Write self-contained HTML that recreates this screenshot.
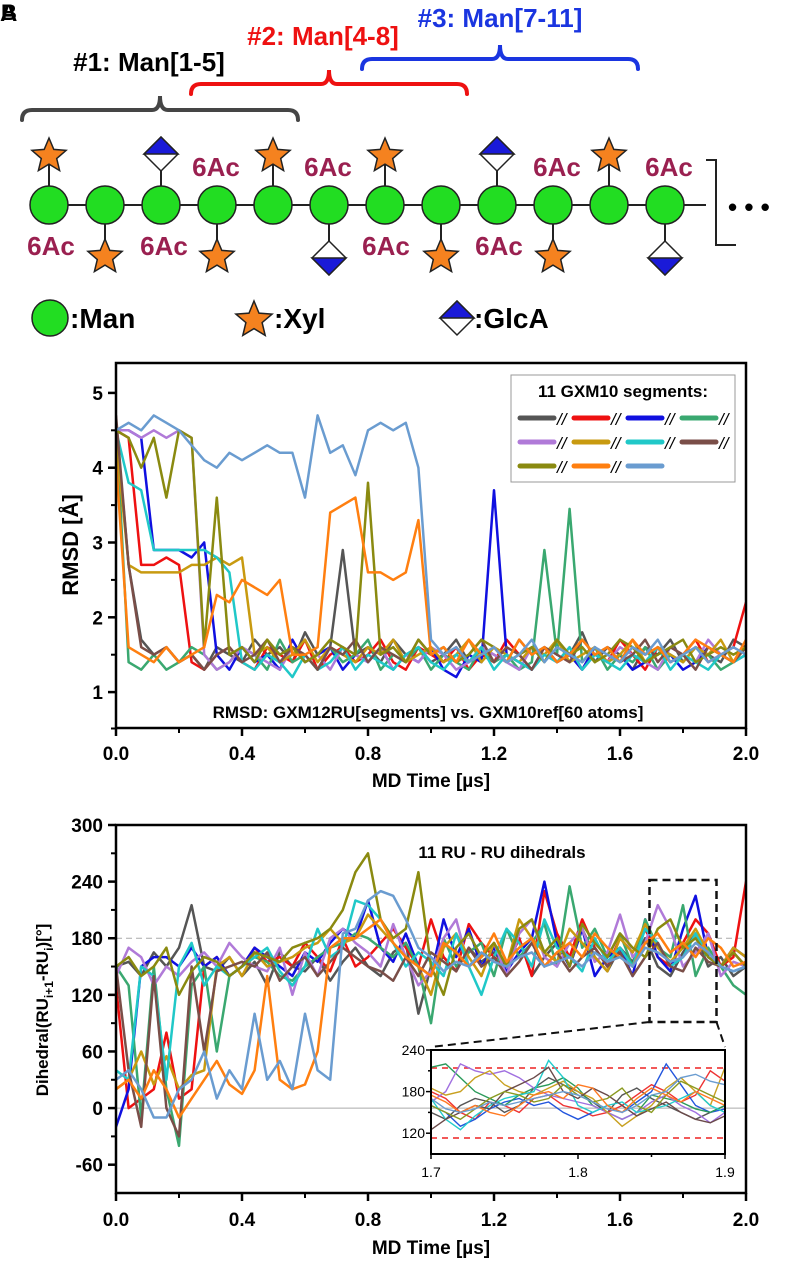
<!DOCTYPE html>
<html><head><meta charset="utf-8"><style>
body{margin:0;background:#fff;}
svg{display:block;font-family:"Liberation Sans",Arial,sans-serif;}
</style></head><body>
<svg id="fig" width="785" height="1261" viewBox="0 0 785 1261" xmlns="http://www.w3.org/2000/svg">
<g id="diagram"></g>
<g id="c1"></g>
<g id="c2"></g>
</svg>
<script>
const NS="http://www.w3.org/2000/svg";
function mk(p,tag,attrs,txt){const e=document.createElementNS(NS,tag);for(const k in attrs)e.setAttribute(k,attrs[k]);if(txt!==undefined)e.textContent=txt;p.appendChild(e);return e;}

// ===== DATA =====
const colors=["#555555","#ee1111","#1010e0","#3aa870","#b07ad8","#c89a10","#20c8c8","#7a4e48","#8a8a10","#ff7f10","#6a9cd0"];
const seriesNames=["seg1","seg2","seg3","seg4","seg5","seg6","seg7","seg8","seg9","seg10","seg11"];
const timeUs=[0,0.04,0.08,0.12,0.16,0.2,0.24,0.28,0.32,0.36,0.4,0.44,0.48,0.52,0.56,0.6,0.64,0.68,0.72,0.76,0.8,0.84,0.88,0.92,0.96,1.0,1.04,1.08,1.12,1.16,1.2,1.24,1.28,1.32,1.36,1.4,1.44,1.48,1.52,1.56,1.6,1.64,1.68,1.72,1.76,1.8,1.84,1.88,1.92,1.96,2.0];
const rmsdGray=[4.6,2.7,1.7,1.5,1.6,1.4,1.5,1.3,1.6,1.5, 1.4,1.7,1.5,1.6,1.4,1.8,1.5,1.6,2.9,1.5, 1.6,1.4,1.7,1.5,1.6,1.4,1.5,1.7,1.4,1.6, 1.5,1.4,1.7,1.5,1.6,1.4,1.5,1.8,1.4,1.6, 1.5,1.3,1.6,1.5,1.7,1.4,1.6,1.5,1.4,1.7,1.6];
const rmsdRed=[4.5,4.4,2.7,2.7,2.8,2.7,1.4,1.3,1.5,1.6, 1.4,1.3,1.6,1.5,1.4,1.7,1.3,1.5,1.6,1.4, 1.5,1.7,1.4,1.3,1.6,1.5,1.4,1.6,1.3,1.5, 1.4,1.7,1.5,1.3,1.6,1.4,1.5,1.3,1.6,1.4, 1.7,1.5,1.3,1.6,1.4,1.5,1.7,1.4,1.5,1.6,2.2];
const rmsdBlue=[4.5,4.5,4.4,2.9,2.9,2.9,2.8,3.0,1.5,1.3, 1.6,1.4,1.5,1.3,1.7,1.4,1.5,1.6,1.3,1.5, 1.4,1.6,1.3,1.5,1.4,1.6,1.3,1.2,1.5,1.4, 3.7,1.5,1.4,1.3,1.6,1.4,1.5,1.3,1.6,1.4, 1.5,1.3,1.4,1.6,1.5,1.3,1.4,1.6,1.5,1.4,1.5];
const rmsdGreen=[4.6,1.4,1.3,1.5,1.3,1.4,1.6,1.5,1.3,1.4, 1.6,1.5,1.3,1.7,1.4,1.5,1.3,1.6,1.4,1.5, 1.7,1.3,1.5,1.4,1.6,1.3,1.5,1.4,1.3,1.6, 1.4,1.5,1.3,1.4,2.9,1.5,3.45,1.4,1.6,1.3, 1.5,1.4,1.6,1.3,1.5,1.4,1.6,1.5,1.3,1.4,1.5];
const rmsdPurple=[4.5,4.5,4.4,4.5,4.4,4.5,4.4,1.5,1.3,1.4, 1.6,1.5,1.4,1.3,1.6,1.4,1.5,1.3,1.6,1.5, 1.4,1.6,1.3,1.5,1.4,1.6,1.5,1.3,1.4,1.6, 1.5,1.4,1.3,1.6,1.5,1.4,1.6,1.3,1.5,1.4, 1.6,1.5,1.4,1.3,1.6,1.5,1.4,1.7,1.5,1.4,1.5];
const rmsdGold=[4.4,2.7,2.6,2.6,2.6,2.6,2.7,2.7,2.8,2.7, 2.8,1.5,1.6,1.4,1.5,1.7,1.4,1.6,1.5,1.4, 1.6,1.5,1.7,1.4,1.5,1.6,1.4,1.5,1.7,1.4, 1.6,1.5,1.4,1.6,1.5,1.7,1.4,1.5,1.6,1.4, 1.5,1.7,1.4,1.6,1.5,1.4,1.6,1.5,1.7,1.4,1.6];
const rmsdCyan=[4.5,3.8,3.7,2.9,2.9,2.9,2.9,2.9,2.8,2.6, 1.4,1.3,1.5,1.4,1.2,1.5,1.3,1.4,1.6,1.3, 1.5,1.4,1.3,1.5,1.6,1.4,1.3,1.5,1.4,1.6, 1.3,1.5,1.4,1.3,1.5,1.4,1.6,1.3,1.5,1.4, 1.3,1.5,1.4,1.6,1.3,1.5,1.4,1.3,1.5,1.4,1.5];
const rmsdBrown=[4.7,2.7,1.6,1.5,1.6,1.4,1.5,1.3,1.5,1.6, 1.4,1.5,1.7,1.4,1.6,1.5,1.3,1.6,1.5,1.7, 1.4,1.6,1.5,1.4,1.7,1.5,1.6,1.4,1.5,1.7, 1.4,1.6,1.5,1.3,1.6,1.5,1.4,1.7,1.5,1.6, 1.4,1.5,1.7,1.4,1.6,1.5,1.3,1.6,1.5,1.4,1.6];
const rmsdOlive=[4.5,4.4,4.0,4.4,3.6,4.5,4.4,1.6,3.6,1.5, 1.6,1.4,1.7,1.5,1.6,1.4,1.5,1.7,1.6,1.5, 3.8,1.5,1.6,1.4,1.7,1.5,1.6,1.4,1.5,1.7, 1.6,1.4,1.5,1.6,1.4,1.7,1.5,1.6,1.4,1.5, 1.7,1.6,1.4,1.5,1.6,1.7,1.4,1.5,1.6,1.5,1.6];
const rmsdOrange=[4.1,1.6,1.5,1.4,1.6,1.4,1.5,1.6,2.3,2.2, 2.5,2.4,2.3,2.5,1.5,1.5,1.6,3.4,3.5,3.6, 2.6,2.6,2.5,2.6,3.3,1.5,1.6,1.4,1.7,1.5, 1.6,1.4,1.7,1.5,1.6,1.4,1.5,1.7,1.5,1.6, 1.4,1.7,1.5,1.6,1.4,1.5,1.7,1.6,1.5,1.4,1.7];
const rmsdLightBlue=[4.5,4.6,4.5,4.7,4.6,4.5,4.3,4.1,4.0,4.2, 4.1,4.2,4.3,4.2,4.2,3.6,4.7,4.2,4.3,3.9, 4.5,4.6,4.5,4.6,4.0,1.7,1.5,1.6,1.4,1.5, 1.6,1.4,1.5,1.7,1.4,1.6,1.5,1.4,1.6,1.5, 1.4,1.6,1.5,1.7,1.4,1.5,1.6,1.4,1.5,1.6,1.5];
const rmsdSeries=[rmsdGray,rmsdRed,rmsdBlue,rmsdGreen,rmsdPurple,rmsdGold,rmsdCyan,rmsdBrown,rmsdOlive,rmsdOrange,rmsdLightBlue];
const rmsdTicks=[1,2,3,4,5];
const timeTicks=[0,0.4,0.8,1.2,1.6,2.0];
const timeTickLabels=["0.0","0.4","0.8","1.2","1.6","2.0"];

const dihGray=[150,155,140,165,150,170,215,150,145,160, 140,155,130,165,150,145,160,135,155,170, 150,140,165,175,100,150,160,145,170,155, 165,150,180,140,160,175,150,190,160,145, 170,155,180,150,140,165,185,150,160,140,150];
const dihRed=[130,0,10,20,80,10,20,150,160,140, 150,170,155,160,150,175,160,145,180,150, 160,175,190,170,150,200,160,145,195,175, 160,150,180,140,230,185,160,200,170,150, 180,165,190,160,150,175,200,185,150,160,240];
const dihBlue=[-20,20,150,160,160,150,170,150,160,140, 150,170,160,150,140,165,155,175,190,180, 220,170,155,185,150,140,200,160,190,150, 170,145,165,180,240,175,150,190,140,160, 170,140,200,160,145,190,225,160,150,170,160];
const dihGreen=[150,130,-10,150,20,-40,130,150,60,140, 150,160,155,140,135,150,160,170,175,185, 180,170,160,175,150,90,180,150,165,175, 140,190,160,175,195,150,235,170,190,160, 185,150,200,170,160,215,140,170,150,130,120];
const dihPurple=[140,170,160,130,150,140,155,165,150,175, 160,150,145,170,120,165,140,180,190,175, 165,150,195,160,130,145,180,200,150,160, 175,140,185,200,160,150,175,190,155,165, 205,160,175,215,190,150,165,185,140,155,150];
const dihGold=[20,30,60,25,55,20,35,40,150,160, 140,165,150,155,160,170,175,190,175,180, 205,190,175,160,150,120,170,185,160,140, 175,150,200,180,165,155,190,175,160,145, 180,165,195,170,155,170,190,165,150,170,160];
const dihCyan=[40,30,150,140,30,150,175,130,150,140, 150,160,170,145,130,150,190,160,170,220, 215,200,175,150,165,155,140,185,150,120, 160,190,175,150,200,170,160,145,180,155, 170,150,190,175,150,160,185,160,150,145,150];
const dihBrown=[150,40,-20,140,0,-30,150,60,145,150, 155,150,165,135,150,160,140,155,170,160, 150,145,135,160,140,165,155,145,170,150, 160,140,155,175,150,165,145,160,170,150, 165,140,160,175,150,145,170,155,150,165,150];
const dihOlive=[150,160,140,150,170,120,145,160,155,140, 150,165,160,155,170,175,180,190,210,250, 270,200,180,190,250,150,120,170,185,160, 175,150,190,200,165,180,150,195,175,160, 185,170,160,190,200,170,180,160,150,165,150];
const dihOrange=[20,30,10,40,20,-10,10,30,50,25, 15,40,140,30,20,25,60,170,180,180, 190,200,175,160,150,140,175,165,150,160, 185,155,170,180,150,165,175,160,185,170, 160,150,175,185,165,175,160,180,170,150,155];
const dihLightBlue=[30,40,20,-10,-10,20,30,60,10,40, 20,100,30,50,20,100,40,30,185,190, 220,230,225,200,170,160,145,155,150,165, 155,150,160,165,150,155,160,150,165,155, 160,150,170,165,155,160,175,165,150,145,150];
const dihSeries=[dihGray,dihRed,dihBlue,dihGreen,dihPurple,dihGold,dihCyan,dihBrown,dihOlive,dihOrange,dihLightBlue];
const dihTicks=[-60,0,60,120,180,240,300];

const insetTime=[1.70,1.71,1.72,1.73,1.74,1.75,1.76,1.77,1.78,1.79,1.80,1.81,1.82,1.83,1.84,1.85,1.86,1.87,1.88,1.89,1.90];
const insGray=[150,140,160,170,165,150,160,185,200,190,180,165,150,175,185,170,160,150,140,150,160];
const insRed=[180,170,150,140,165,160,150,170,175,160,155,145,150,160,175,190,180,165,175,210,195];
const insBlue=[160,150,130,140,155,165,170,160,165,150,140,150,160,150,165,180,220,190,160,150,155];
const insGreen=[215,220,200,180,170,160,175,185,190,200,185,160,150,140,150,175,170,165,155,150,160];
const insPurple=[165,180,220,210,205,210,200,185,175,170,165,160,150,140,150,165,175,160,150,135,150];
const insGold=[185,175,180,200,210,190,180,175,185,195,180,170,150,130,145,160,185,200,180,160,215];
const insCyan=[170,140,125,145,160,170,175,180,225,200,160,150,160,165,150,155,160,170,180,160,150];
const insBrown=[125,140,150,160,155,180,190,200,215,180,170,185,175,160,145,155,165,150,140,135,145];
const insOlive=[160,150,140,155,170,180,175,165,170,190,175,165,170,185,160,150,175,195,185,175,165];
const insOrange=[175,165,150,160,150,145,160,175,180,170,190,185,160,150,170,185,175,165,180,170,160];
const insLightBlue=[170,155,150,155,165,160,165,170,175,180,175,165,155,150,160,175,180,200,205,195,190];
const insetSeries=[insGray,insRed,insBlue,insGreen,insPurple,insGold,insCyan,insBrown,insOlive,insOrange,insLightBlue];
const insetColors=["#555","#e33","#2255dd","#2a9a5a","#a070e0","#c8a020","#22cccc","#6a4a4a","#8a9a20","#ff7a22","#6a9cd0"];
const insetYTicks=[120,180,240];
const insetXTicks=[1.7,1.8,1.9];

// ===== TOP DIAGRAM =====
const D=document.getElementById('diagram');
let e;
function star(p,cx,cy,r){let pts=[];for(let i=0;i<10;i++){const a=-Math.PI/2+i*Math.PI/5;const rr=i%2?r*0.45:r;pts.push((cx+rr*Math.cos(a)).toFixed(1)+","+(cy+rr*Math.sin(a)).toFixed(1));}
return mk(p,'polygon',{points:pts.join(' '),fill:'#f5821f',stroke:'#222','stroke-width':1.5});}
function diamond(p,cx,cy,r,blueTop){const g=mk(p,'g',{});
mk(g,'polygon',{points:`${cx-r},${cy} ${cx},${cy-r} ${cx+r},${cy} ${cx},${cy+r}`,fill:'#fff',stroke:'#222','stroke-width':1.5});
if(blueTop)mk(g,'polygon',{points:`${cx-r},${cy} ${cx},${cy-r} ${cx+r},${cy}`,fill:'#1a1ad8',stroke:'#222','stroke-width':1.5});
else mk(g,'polygon',{points:`${cx-r},${cy} ${cx},${cy+r} ${cx+r},${cy}`,fill:'#1a1ad8',stroke:'#222','stroke-width':1.5});
return g;}
e=mk(D,'text',{x:0,y:21,'font-size':24,'font-weight':'bold'},'A');


mk(D,'text',{x:1,y:20,'font-size':22,'font-weight':'bold'},'B');
function brace(x1,x2,ytop,col){const mid=(x1+x2)/2,y=ytop+14;
return mk(D,'path',{d:`M${x1},${y+10} Q${x1},${y} ${x1+10},${y} L${mid-8},${y} Q${mid},${y} ${mid},${ytop} Q${mid},${y} ${mid+8},${y} L${x2-10},${y} Q${x2},${y} ${x2},${y+10}`,fill:'none',stroke:col,'stroke-width':4,'stroke-linecap':'round'});}
e=brace(22,298,96,'#454545');


e=brace(191,467,70,'#ee1111');


e=brace(362,638,45,'#1a35e0');


e=mk(D,'text',{x:149,y:71,'font-size':26,'font-weight':'bold','text-anchor':'middle',fill:'#000'},'#1: Man[1-5]');


e=mk(D,'text',{x:323,y:45,'font-size':26,'font-weight':'bold','text-anchor':'middle',fill:'#ee1111'},'#2: Man[4-8]');


e=mk(D,'text',{x:500,y:27,'font-size':26,'font-weight':'bold','text-anchor':'middle',fill:'#1a35e0'},'#3: Man[7-11]');


e=mk(D,'line',{x1:49,y1:205,x2:706,y2:205,stroke:'#222','stroke-width':2});


e=mk(D,'path',{d:'M706,160 L716,160 L716,245 L736,245',fill:'none',stroke:'#222','stroke-width':2});


e=mk(D,'text',{x:728,y:216,'font-size':26,'font-weight':'bold'},'• • •');


const topKinds=["s","","d","","s","","s","","d","","s",""];
const botKinds=["","s","","s","","d","","s","","s","","d"];
for(let k=0;k<12;k++){const cx=49+56*k;
if(topKinds[k]){mk(D,'line',{x1:cx,y1:205,x2:cx,y2:160,stroke:'#222','stroke-width':2});}
if(botKinds[k]){mk(D,'line',{x1:cx,y1:205,x2:cx,y2:250,stroke:'#222','stroke-width':2});}}
for(let k=0;k<12;k++){const cx=49+56*k;
const c=mk(D,'circle',{cx:cx,cy:205,r:19,fill:'#22dd22',stroke:'#222','stroke-width':1.5});


if(topKinds[k]==='s'){e=star(D,cx,156,18);

}
if(topKinds[k]==='d'){e=diamond(D,cx,154,17,true);

}
if(botKinds[k]==='s'){e=star(D,cx,257,18);

}
if(botKinds[k]==='d'){e=diamond(D,cx,258,17,false);

}}
const acTop=[216,328,557,669],acBot=[51,164,386,499];
acTop.forEach(x=>{e=mk(D,'text',{x:x,y:176,'font-size':26,'font-weight':'bold','text-anchor':'middle',fill:'#9a2050'},'6Ac');

});
acBot.forEach(x=>{e=mk(D,'text',{x:x,y:255,'font-size':26,'font-weight':'bold','text-anchor':'middle',fill:'#9a2050'},'6Ac');

});
e=mk(D,'circle',{cx:50,cy:318,r:18,fill:'#22dd22',stroke:'#222','stroke-width':1.5});


e=mk(D,'text',{x:70,y:328,'font-size':28,'font-weight':'bold'},':Man');


e=star(D,254,320,19);


e=mk(D,'text',{x:274,y:328,'font-size':28,'font-weight':'bold'},':Xyl');


e=diamond(D,457,318,17,true);


e=mk(D,'text',{x:474,y:328,'font-size':28,'font-weight':'bold'},':GlcA');



// ===== CHART HELPERS =====
function pathFrom(xs,ys,sx,sy){return xs.map((x,i)=>(i?'L':'M')+sx(x).toFixed(1)+','+sy(ys[i]).toFixed(1)).join(' ');}
const X0=116,X1=746;
const sxMain=t=>X0+(t-0)/(2.0-0)*(X1-X0);

// ===== CHART 1 =====
const C1=document.getElementById('c1');
const T1=363,B1=728,ymin1=0.52,ymax1=5.4;
const sy1=v=>B1-(v-ymin1)/(ymax1-ymin1)*(B1-T1);
const clip1=mk(C1,'clipPath',{id:'cl1'});mk(clip1,'rect',{x:X0,y:T1,width:X1-X0,height:B1-T1});
const g1=mk(C1,'g',{'clip-path':'url(#cl1)'});
rmsdSeries.forEach((s,i)=>{const p=mk(g1,'path',{d:pathFrom(timeUs,s,sxMain,sy1),fill:'none',stroke:colors[i],'stroke-width':2.5,'stroke-linejoin':'round'});

});
e=mk(C1,'rect',{x:X0,y:T1,width:X1-X0,height:B1-T1,fill:'none',stroke:'#000','stroke-width':2.5});


rmsdTicks.forEach(v=>{const y=sy1(v);mk(C1,'line',{x1:X0-8,y1:y,x2:X0,y2:y,stroke:'#000','stroke-width':2.5});
e=mk(C1,'text',{x:X0-13,y:y+7,'font-size':19,'font-weight':'bold','text-anchor':'end'},String(v));


const ym=sy1(v+0.5);if(v+0.5<ymax1)mk(C1,'line',{x1:X0-5,y1:ym,x2:X0,y2:ym,stroke:'#000','stroke-width':2});});
mk(C1,'line',{x1:X0-5,y1:sy1(0.5)-1,x2:X0,y2:sy1(0.5)-1,stroke:'#000','stroke-width':2});
timeTicks.forEach((t,i)=>{const x=sxMain(t);mk(C1,'line',{x1:x,y1:B1,x2:x,y2:B1+8,stroke:'#000','stroke-width':2.5});
e=mk(C1,'text',{x:x,y:B1+32,'font-size':19,'font-weight':'bold','text-anchor':'middle'},timeTickLabels[i]);


if(i<timeTicks.length-1){const xm=sxMain(t+0.2);mk(C1,'line',{x1:xm,y1:B1,x2:xm,y2:B1+5,stroke:'#000','stroke-width':2});}});
e=mk(C1,'text',{x:431,y:787,'font-size':19,'font-weight':'bold','text-anchor':'middle'},'MD Time [µs]');


e=mk(C1,'text',{x:78,y:545,'font-size':22,'font-weight':'bold','text-anchor':'middle',transform:'rotate(-90 78 545)'},'RMSD [Å]');


e=mk(C1,'text',{x:428,y:718,'font-size':17,'font-weight':'bold','text-anchor':'middle'},'RMSD: GXM12RU[segments] vs. GXM10ref[60 atoms]');


const Lg=mk(C1,'g',{});


mk(Lg,'rect',{x:511,y:375,width:224,height:107,fill:'#fff',stroke:'#999','stroke-width':1});
mk(Lg,'text',{x:623,y:397,'font-size':17,'font-weight':'bold','text-anchor':'middle'},'11 GXM10 segments:');
colors.forEach((c,i)=>{const col=i%4,row=Math.floor(i/4);const x=520+col*54,y=418+row*24;
const le=mk(Lg,'line',{x1:x,y1:y,x2:x+34,y2:y,stroke:c,'stroke-width':5,'stroke-linecap':'round'});


if(i<10)mk(Lg,'text',{x:x+37,y:y+7,'font-size':17,'font-style':'italic'},'//');});

// ===== CHART 2 =====
const C2=document.getElementById('c2');
const T2=825,B2=1193,ymin2=-90,ymax2=300;
const sy2=v=>B2-(v-ymin2)/(ymax2-ymin2)*(B2-T2);
e=mk(C2,'line',{x1:X0,y1:sy2(0),x2:X1,y2:sy2(0),stroke:'#aaa','stroke-width':1});


e=mk(C2,'line',{x1:X0,y1:sy2(180),x2:X1,y2:sy2(180),stroke:'#aaa','stroke-width':1,'stroke-dasharray':'6 4'});


const clip2=mk(C2,'clipPath',{id:'cl2'});mk(clip2,'rect',{x:X0,y:T2,width:X1-X0,height:B2-T2});
const g2=mk(C2,'g',{'clip-path':'url(#cl2)'});
dihSeries.forEach((s,i)=>{const p=mk(g2,'path',{d:pathFrom(timeUs,s,sxMain,sy2),fill:'none',stroke:colors[i],'stroke-width':2.5,'stroke-linejoin':'round'});

});
e=mk(C2,'rect',{x:X0,y:T2,width:X1-X0,height:B2-T2,fill:'none',stroke:'#000','stroke-width':2.5});


dihTicks.forEach(v=>{const y=sy2(v);mk(C2,'line',{x1:X0-8,y1:y,x2:X0,y2:y,stroke:'#000','stroke-width':2.5});
e=mk(C2,'text',{x:X0-13,y:y+7,'font-size':19,'font-weight':'bold','text-anchor':'end'},String(v));


if(v<300){const ym=sy2(v+30);mk(C2,'line',{x1:X0-5,y1:ym,x2:X0,y2:ym,stroke:'#000','stroke-width':2});}});
timeTicks.forEach((t,i)=>{const x=sxMain(t);mk(C2,'line',{x1:x,y1:B2,x2:x,y2:B2+8,stroke:'#000','stroke-width':2.5});
e=mk(C2,'text',{x:x,y:B2+33,'font-size':19,'font-weight':'bold','text-anchor':'middle'},timeTickLabels[i]);


if(i<timeTicks.length-1){const xm=sxMain(t+0.2);mk(C2,'line',{x1:xm,y1:B2,x2:xm,y2:B2+5,stroke:'#000','stroke-width':2});}});
e=mk(C2,'text',{x:431,y:1254,'font-size':19,'font-weight':'bold','text-anchor':'middle'},'MD Time [µs]');


const yt=mk(C2,'text',{x:48,y:1010,'font-size':17,'font-weight':'bold','text-anchor':'middle',transform:'rotate(-90 48 1010)'});


mk(yt,'tspan',{},'Dihedral(RU');
mk(yt,'tspan',{'font-size':12,dy:5},'i+1');
mk(yt,'tspan',{dy:-5},'-RU');
mk(yt,'tspan',{'font-size':12,dy:5},'i');
mk(yt,'tspan',{dy:-5},')[°]');
e=mk(C2,'text',{x:502,y:858,'font-size':17,'font-weight':'bold','text-anchor':'middle'},'11 RU - RU dihedrals');


const zx0=sxMain(1.7),zx1=sxMain(1.9);
e=mk(C2,'rect',{x:zx0-2,y:880,width:zx1-zx0+4,height:142,fill:'none',stroke:'#111','stroke-width':2.5,'stroke-dasharray':'8 5'});


const IL=431,IR=725,IT=1050,IB=1154;
mk(C2,'rect',{x:IL,y:IT,width:IR-IL,height:IB-IT,fill:'#fff',stroke:'none'});
mk(C2,'line',{x1:zx0-2,y1:1022,x2:IL,y2:IT-3,stroke:'#111','stroke-width':2,'stroke-dasharray':'8 5'});
mk(C2,'line',{x1:zx1+2,y1:1022,x2:IR,y2:IT-3,stroke:'#111','stroke-width':2,'stroke-dasharray':'8 5'});
const sxI=t=>IL+(t-1.7)/(1.9-1.7)*(IR-IL);
const syI=v=>IB-(v-90)/(240-90)*(IB-IT);
const gi=mk(C2,'g',{});


mk(gi,'line',{x1:IL,y1:sy2(0),x2:IR,y2:sy2(0),stroke:'#aaa','stroke-width':1});
mk(gi,'line',{x1:IL,y1:syI(214),x2:IR,y2:syI(214),stroke:'#e22','stroke-width':1.5,'stroke-dasharray':'6 5'});
mk(gi,'line',{x1:IL,y1:syI(113),x2:IR,y2:syI(113),stroke:'#e22','stroke-width':1.5,'stroke-dasharray':'6 5'});
insetSeries.forEach((s,i)=>{const p=mk(gi,'path',{d:pathFrom(insetTime,s,sxI,syI),fill:'none',stroke:insetColors[i],'stroke-width':1.4});

});
mk(gi,'rect',{x:IL,y:IT,width:IR-IL,height:IB-IT,fill:'none',stroke:'#000','stroke-width':2});
insetYTicks.forEach(v=>{const y=syI(v);mk(gi,'line',{x1:IL-5,y1:y,x2:IL,y2:y,stroke:'#000','stroke-width':1.5});
mk(gi,'text',{x:IL-6,y:y+5,'font-size':14,'text-anchor':'end'},String(v));
const ym=syI(v-30);if(v-30>90)mk(gi,'line',{x1:IL-3,y1:ym,x2:IL,y2:ym,stroke:'#000','stroke-width':1.5});});
insetXTicks.forEach((t,i)=>{const x=sxI(t);mk(gi,'line',{x1:x,y1:IB,x2:x,y2:IB+5,stroke:'#000','stroke-width':1.5});
mk(gi,'text',{x:x,y:IB+23,'font-size':14,'text-anchor':'middle'},t.toFixed(1));
if(i<2){const xm=sxI(t+0.05);mk(gi,'line',{x1:xm,y1:IB,x2:xm,y2:IB+3,stroke:'#000','stroke-width':1.5});}});
</script>
</body></html>
